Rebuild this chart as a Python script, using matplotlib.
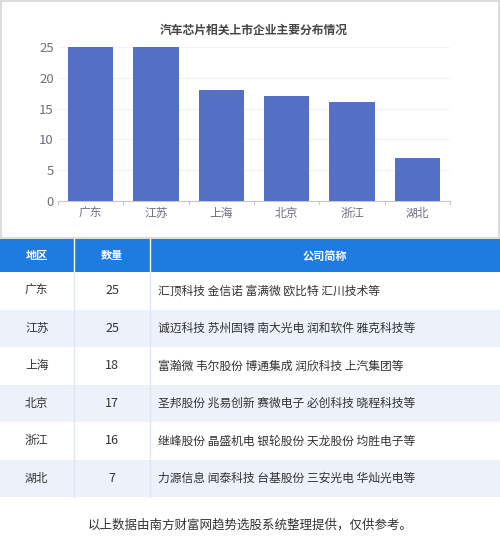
import matplotlib.pyplot as plt
from matplotlib.patches import Rectangle

plt.rcParams['font.family'] = ['Noto Sans CJK SC', 'DejaVu Sans']

regions = ["广东", "江苏", "上海", "北京", "浙江", "湖北"]
counts = [25, 25, 18, 17, 16, 7]
companies = [
    "汇顶科技 金信诺 富满微 欧比特 汇川技术等",
    "诚迈科技 苏州固锝 南大光电 润和软件 雅克科技等",
    "富瀚微 韦尔股份 博通集成 润欣科技 上汽集团等",
    "圣邦股份 兆易创新 赛微电子 必创科技 晓程科技等",
    "继峰股份 晶盛机电 银轮股份 天龙股份 均胜电子等",
    "力源信息 闻泰科技 台基股份 三安光电 华灿光电等",
]
headers = ["地区", "数量", "公司简称"]
title = "汽车芯片相关上市企业主要分布情况"
footer = "以上数据由南方财富网趋势选股系统整理提供，仅供参考。"

W, H = 500, 551
fig = plt.figure(figsize=(W / 100, H / 100), dpi=100)

# pixel-space overlay for the panel frame and the table
ov = fig.add_axes([0, 0, 1, 1])
ov.set_xlim(0, W)
ov.set_ylim(H, 0)
ov.axis("off")

ov.add_patch(Rectangle((0.5, 0.5), W - 1.5, 237, fill=False, edgecolor="#d6d6d6", lw=1.2))

# chart
ax = fig.add_axes([58 / W, (H - 201) / H, 392 / W, 154 / H])
x = range(len(regions))
ax.bar(x, counts, width=0.69, color="#5470c6", zorder=3)
ax.set_xlim(-0.5, len(regions) - 0.5)
ax.set_ylim(0, 25)
ax.set_yticks([0, 5, 10, 15, 20, 25])
ax.set_xticks(list(x))
ax.set_xticklabels(regions)
ax.tick_params(axis="y", labelsize=9.5, colors="#6e7079", length=0, pad=3)
ax.tick_params(axis="x", labelsize=8.5, colors="#6e7079", length=0, pad=4)
ax.yaxis.grid(True, color="#f3f3f3", lw=0.8, zorder=0)
for s in ["top", "right", "left"]:
    ax.spines[s].set_visible(False)
ax.spines["bottom"].set_color("#c8c8c8")
for b in range(len(regions) + 1):
    ax.plot([b - 0.5, b - 0.5], [0, -0.5], color="#c8c8c8", lw=0.8, clip_on=False)
fig.text(254 / W, (H - 30) / H, title, ha="center", va="center", fontsize=8.5,
         fontweight="bold", color="#464646")

# table
col_x = [0, 74, 150, W]
head_top, head_bot = 239, 272
row_h = (497 - head_bot) / len(regions)
ov.add_patch(Rectangle((0, head_top), W, head_bot - head_top, color="#1e7be0", lw=0))
for c in col_x[1:-1]:
    ov.plot([c, c], [head_top, head_bot], color="#ffffff", lw=1)
ov.text(37, 256, headers[0], ha="center", va="center", fontsize=8, fontweight="bold", color="white")
ov.text(112, 256, headers[1], ha="center", va="center", fontsize=8, fontweight="bold", color="white")
ov.text(325, 256, headers[2], ha="center", va="center", fontsize=8, fontweight="bold", color="white")

for i in range(len(regions)):
    y0 = head_bot + i * row_h
    bg = "#ffffff" if i % 2 == 0 else "#edf2fa"
    ov.add_patch(Rectangle((0, y0), W, row_h, color=bg, lw=0))
    yc = y0 + row_h / 2
    ov.text(25, yc, regions[i], ha="left", va="center", fontsize=8.5, color="#333333")
    ov.text(112, yc, str(counts[i]), ha="center", va="center", fontsize=9, color="#333333")
    ov.text(158, yc, companies[i], ha="left", va="center", fontsize=8.5, color="#333333")
for c in col_x[1:-1]:
    ov.plot([c, c], [head_bot, 497], color="#dde6f3", lw=1)

ov.text(250, 525, footer, ha="center", va="center", fontsize=9, color="#333333")

fig.savefig("out.png", dpi=100)
